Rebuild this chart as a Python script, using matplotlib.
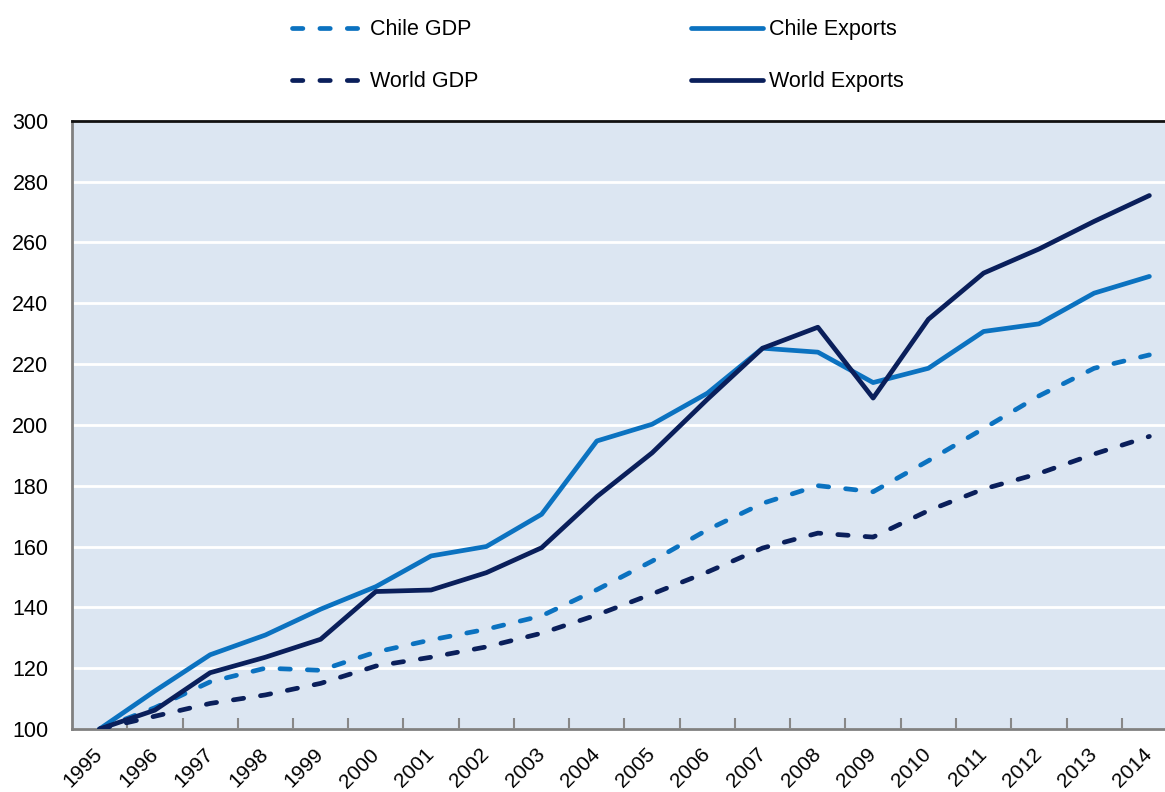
import matplotlib
matplotlib.use("Agg")
import matplotlib.pyplot as plt
from matplotlib.ticker import FixedLocator, NullFormatter
from matplotlib.lines import Line2D

years = [str(y) for y in range(1995, 2015)]
chile_gdp = [100, 107, 115.5, 120, 119.3, 125.3, 129.3, 132.8, 137.2, 145.8, 155.2,
             165.5, 174.2, 180, 178, 188.2, 198.8, 209.5, 218.6, 223]
chile_exports = [100, 112.5, 124.4, 130.9, 139.4, 146.8, 156.9, 160, 170.6, 194.7, 200.2,
                 210.4, 225.2, 223.9, 213.9, 218.6, 230.7, 233.2, 243.3, 248.8]
world_gdp = [100, 104.2, 108.4, 111.2, 115, 120.7, 123.6, 127, 131.5, 137.5, 144.4,
             151.6, 159.5, 164.4, 163.1, 171.8, 178.9, 184, 190.4, 196.2]
world_exports = [100, 106.2, 118.5, 123.6, 129.5, 145.2, 145.7, 151.4, 159.6, 176.4, 190.8,
                 208.4, 225.2, 232.1, 208.8, 234.7, 249.9, 257.8, 266.9, 275.4]
yticks = [100, 120, 140, 160, 180, 200, 220, 240, 260, 280, 300]

FONT = "Liberation Sans"
LIGHT = "#0B72C0"
DARK = "#0A1F5B"
BG = "#DCE6F2"

W, H = 1165, 792
fig = plt.figure(figsize=(W / 100, H / 100), dpi=100)
left, bottom, top = 72, 63, 120.7
width = 20 * 55.25
ax = fig.add_axes([left / W, bottom / H, width / W, (H - top - bottom) / H])
ax.set_facecolor(BG)

x = list(range(len(years)))
lw = 3.4
dash = (2.2, 3.6)
ax.plot(x, chile_gdp, color=LIGHT, lw=lw, ls=(0, dash), dash_capstyle="round", zorder=3)
ax.plot(x, chile_exports, color=LIGHT, lw=lw, solid_capstyle="round", zorder=3)
ax.plot(x, world_gdp, color=DARK, lw=lw, ls=(0, dash), dash_capstyle="round", zorder=3)
ax.plot(x, world_exports, color=DARK, lw=lw, solid_capstyle="round", zorder=4)

ax.set_xlim(-0.5, len(years) - 0.5)
ax.set_ylim(100, 300)
ax.set_yticks(yticks)
ax.set_yticklabels([str(v) for v in yticks], family=FONT, fontsize=15.5)
ax.yaxis.grid(True, color="white", lw=2)
ax.set_axisbelow(True)
ax.tick_params(axis="y", length=0, pad=17)

ax.set_xticks(x)
ax.set_xticklabels(years, rotation=45, ha="right", va="center",
                   rotation_mode="anchor", fontsize=15, family=FONT)
ax.tick_params(axis="x", which="major", length=0, pad=16.3)
ax.xaxis.set_minor_locator(FixedLocator([i + 0.5 for i in range(len(years))]))
ax.xaxis.set_minor_formatter(NullFormatter())
ax.tick_params(axis="x", which="minor", direction="in", length=8, width=1.5, color="#888888")

for s in ("left", "bottom"):
    ax.spines[s].set_color("#808080")
    ax.spines[s].set_linewidth(2)
ax.spines["top"].set_color("#111111")
ax.spines["top"].set_linewidth(2)
ax.spines["right"].set_color("#808080")

handles = [
    Line2D([], [], color=LIGHT, lw=lw, ls=(0, dash), dash_capstyle="round"),
    Line2D([], [], color=DARK, lw=lw, ls=(0, dash), dash_capstyle="round"),
    Line2D([], [], color=LIGHT, lw=lw, solid_capstyle="round"),
    Line2D([], [], color=DARK, lw=lw, solid_capstyle="round"),
]
labels = ["Chile GDP", "World GDP", "Chile Exports", "World Exports"]
fig.legend(handles, labels, ncol=2, loc="upper left",
           bbox_to_anchor=(277 / W, 1 - 4 / H), frameon=False,
           prop={"family": FONT, "size": 15.5},
           handlelength=3.35, handletextpad=0.28, columnspacing=9.85,
           labelspacing=1.45, borderpad=0.2)

fig.savefig("out.png", dpi=100)
